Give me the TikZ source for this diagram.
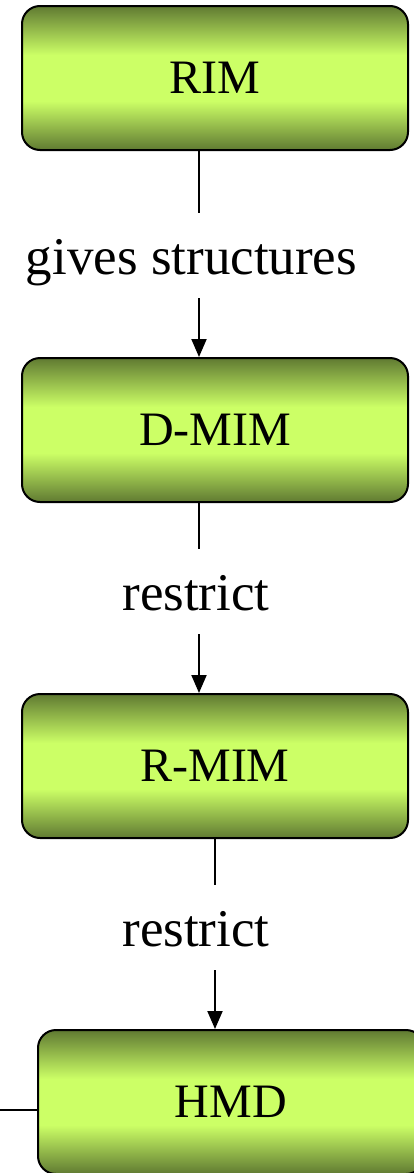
\documentclass[tikz,border=0pt]{standalone}
\usepackage{fontspec}
\setmainfont{Liberation Serif}
\usetikzlibrary{arrows.meta}

\definecolor{boxdark}{RGB}{96,122,50}
\definecolor{boxlight}{RGB}{204,255,102}
\pgfdeclareverticalshading{boxshade}{100bp}{%
  color(0bp)=(boxdark); color(25bp)=(boxdark); color(42bp)=(boxlight);
  color(58bp)=(boxlight); color(75bp)=(boxdark); color(100bp)=(boxdark)}

\tikzset{
  modelbox/.style={draw=black, line width=2pt, rounded corners=18pt,
    shading=boxshade, minimum width=386pt, minimum height=144pt,
    font=\fontsize{48}{56}\selectfont},
  steplabel/.style={anchor=base, inner ysep=0pt, text height=61pt,
    text depth=24pt, font=\fontsize{53}{60}\selectfont},
  flow/.style={line width=2pt},
  flowarrow/.style={line width=2pt, -{Triangle[width=15pt,length=18pt]}}
}

\begin{document}
\begin{tikzpicture}[x=1pt,y=-1pt]
      \useasboundingbox (0,0) rectangle (414,1173);
      \clip (0,0) rectangle (414,1173);
      % the models
      \node[modelbox] (rim) at (215,78) {RIM};
      \node[modelbox] (dmim) at (215,430) {D-MIM};
      \node[modelbox] (rmim) at (215,766) {R-MIM};
      \node[modelbox] (hmd) at (231,1102) {HMD};
      % labels between them
      \node[steplabel] (gives) at (191.5,274) {gives structures};
      \node[steplabel] (restrictA) at (196,610) {restrict};
      \node[steplabel] (restrictB) at (196,946) {restrict};
      \coordinate (colA) at (199,0);
      \coordinate (colB) at (215,0);
      \coordinate (hmdin) at (-10,1110);
      % connectors
      \draw[flow] (rim.south -| colA) -- (gives.north -| colA);
      \draw[flowarrow] (gives.south -| colA) -- (dmim.north -| colA);
      \draw[flow] (dmim.south -| colA) -- (restrictA.north -| colA);
      \draw[flowarrow] (restrictA.south -| colA) -- (rmim.north -| colA);
      \draw[flow] (rmim.south -| colB) -- (restrictB.north -| colB);
      \draw[flowarrow] (restrictB.south -| colB) -- (hmd.north -| colB);
      \draw[flow] (hmdin) -- (hmdin -| hmd.west);
\end{tikzpicture}
\end{document}
